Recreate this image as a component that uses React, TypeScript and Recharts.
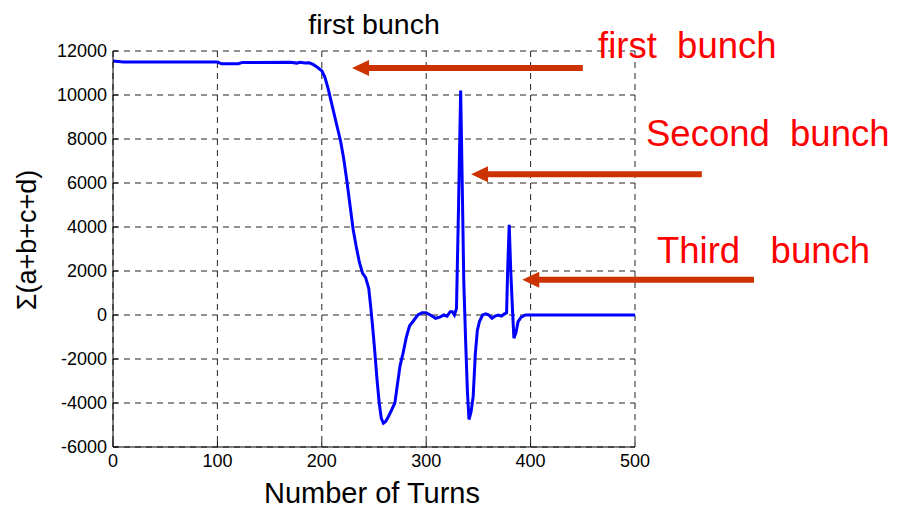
import React from 'react';
import {
  LineChart, Line, XAxis, YAxis, CartesianGrid, ReferenceLine,
} from 'recharts';

// turn numbers and the summed pickup signal
const turns = [
  0, 10, 40, 100, 104, 120, 124, 170, 176, 179, 184, 188, 192, 196, 200, 203, 206, 209, 212, 215,
  218, 221, 224, 227, 230, 233, 236, 239, 242, 245, 247, 249, 251, 253, 255, 257, 259, 261, 264, 267,
  270, 272, 275, 278, 281, 284, 288, 292, 296, 300, 304, 309, 313, 317, 320, 323, 325, 327, 329, 331,
  333, 334.5, 336, 338, 339.5, 341, 343, 345, 347, 349, 351, 354, 357, 360, 363, 366, 369, 372, 375, 377,
  378, 379.5, 381, 382.5, 384, 386, 388, 391, 395, 500,
];
const sumSignal = [
  11550, 11500, 11500, 11500, 11420, 11420, 11480, 11490, 11450, 11490, 11450, 11460, 11380, 11250, 11100, 10800, 10300, 9700, 9100, 8500,
  7900, 7100, 6100, 5000, 3900, 3100, 2400, 1900, 1700, 1200, 300, -700, -1800, -3000, -4000, -4700, -4920, -4850, -4600, -4300,
  -4000, -3300, -2300, -1700, -1000, -500, -250, 0, 100, 100, 0, -150, -100, 0, -50, 150, 150, 0, 300, 5000,
  10200, 6000, 1500, -1500, -3500, -4750, -4400, -3700, -1800, -700, -300, 0, 50, 0, -150, -50, 0, -50, 50, 100,
  2000, 4100, 2000, 400, -1050, -800, -300, -100, 0, 0,
];

const xTicks = [0, 100, 200, 300, 400, 500];
const yTicks = [-6000, -4000, -2000, 0, 2000, 4000, 6000, 8000, 10000, 12000];

// annotation arrows: [tail turn, tip turn, level]
const arrows = [
  { from: 450, to: 229, level: 11230 },
  { from: 564, to: 343, level: 6400 },
  { from: 614, to: 392, level: 1600 },
];

const data = turns.map((t, i) => ({ turn: t, sum: sumSignal[i] }));

const FONT = '"Liberation Sans", Arial, Helvetica, sans-serif';
const ARROW = '#cc3300';

const ArrowShape = (p: any) => {
  const { x1, y1, x2, y2 } = p;
  return (
    <g>
      <line x1={x1} y1={y1} x2={x2 + 14} y2={y2} stroke={ARROW} strokeWidth={6} />
      <polygon points={`${x2},${y2} ${x2 + 17},${y2 - 8} ${x2 + 17},${y2 + 8}`} fill={ARROW} />
    </g>
  );
};

export default function App() {
  return (
    <div style={{ position: 'relative', width: 898, height: 511, margin: '-8px 0 0 -8px', background: '#fff', fontFamily: FONT }}>
      <LineChart width={898} height={511} data={data} margin={{ top: 51, right: 263, bottom: 34, left: 53 }}>
        <CartesianGrid stroke="#222" strokeDasharray="6 5" horizontalValues={yTicks} verticalValues={xTicks} />
        <XAxis
          dataKey="turn" type="number" domain={[0, 500]} ticks={xTicks} height={30}
          stroke="#000" tickSize={-5} tickMargin={12}
          tick={{ fill: '#000', fontSize: 18, fontFamily: FONT }}
        />
        <XAxis xAxisId="top" orientation="top" type="number" domain={[0, 500]} height={0} tick={false} tickLine={false} stroke="#000" />
        <YAxis
          type="number" domain={[-6000, 12000]} ticks={yTicks} width={60}
          stroke="#000" tickSize={-5} tickMargin={11}
          tick={{ fill: '#000', fontSize: 18, fontFamily: FONT }}
        />
        <YAxis yAxisId="right" orientation="right" type="number" domain={[-6000, 12000]} width={0} tick={false} tickLine={false} stroke="#000" />
        <Line
          type="linear" dataKey="sum" stroke="#0000ff" strokeWidth={3}
          dot={false} activeDot={false} isAnimationActive={false}
        />
        {arrows.map((a, i) => (
          <ReferenceLine
            key={i}
            segment={[{ x: a.from, y: a.level }, { x: a.to, y: a.level }]}
            ifOverflow="visible"
            shape={ArrowShape}
          />
        ))}
      </LineChart>
      <svg width={898} height={511} style={{ position: 'absolute', left: 0, top: 0, pointerEvents: 'none' }}>
        <text x={374} y={34} textAnchor="middle" fontSize={28.5} fill="#000" fontFamily={FONT}>first bunch</text>
        <text x={372} y={503} textAnchor="middle" fontSize={29} fill="#000" fontFamily={FONT}>Number of Turns</text>
        <text transform="translate(36,240) rotate(-90)" textAnchor="middle" fontSize={27} fill="#000" fontFamily={FONT}>Σ(a+b+c+d)</text>
        <text x={598} y={58} fontSize={36.5} fill="#ff0000" fontFamily={FONT} style={{ whiteSpace: 'pre' }}>{'first  bunch'}</text>
        <text x={646} y={146} fontSize={36.5} fill="#ff0000" fontFamily={FONT} style={{ whiteSpace: 'pre' }}>{'Second  bunch'}</text>
        <text x={657} y={263} fontSize={36.5} fill="#ff0000" fontFamily={FONT} style={{ whiteSpace: 'pre' }}>{'Third   bunch'}</text>
      </svg>
    </div>
  );
}
